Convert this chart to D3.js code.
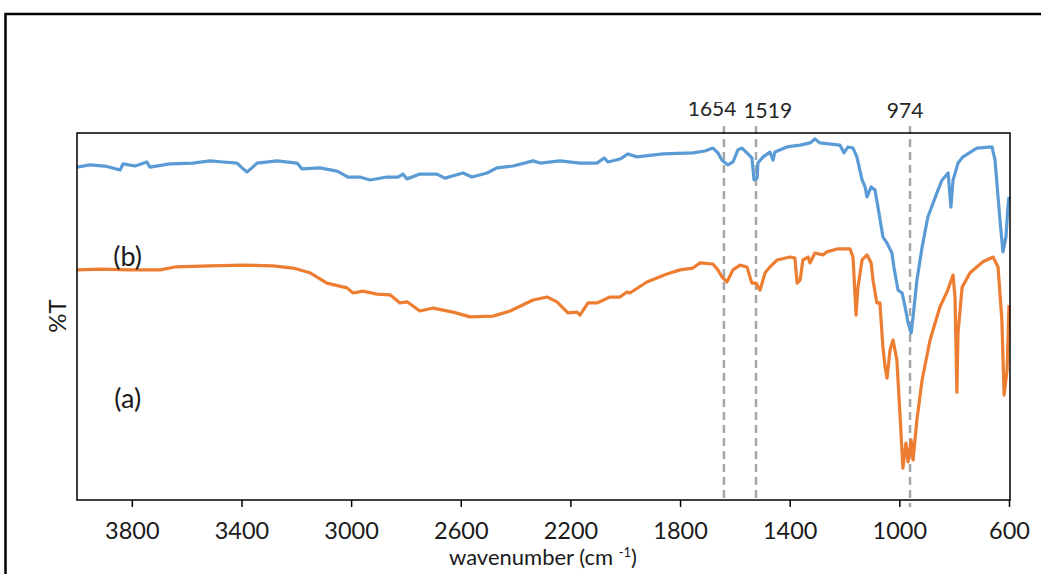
<!DOCTYPE html>
<html>
<head>
<meta charset="utf-8">
<script src="https://cdn.jsdelivr.net/npm/d3@7"></script>
<style>
  body { margin: 0; background: #fff; }
  svg { display: block; font-family: Lato, "Open Sans", sans-serif; }
</style>
</head>
<body>
<svg id="chart"></svg>
<script>
// FTIR spectra (wavenumber cm-1, %T on an arbitrary 0-100 scale)
const blueWn = [4000,3953,3898,3843,3832,3788,3745,3734,3661,3577,3515,3467,3416,3398,3380,3362,3343,3270,3197,3179,3114,3051,3011,2968,2931,2869,2829,2811,2796,2749,2687,2658,2592,2559,2504,2468,2409,2336,2311,2238,2165,2103,2077,2063,2019,1990,1957,1862,1753,1709,1680,1662,1647,1625,1607,1589,1574,1556,1538,1530,1519,1516,1497,1472,1461,1454,1410,1362,1326,1308,1290,1217,1202,1187,1169,1155,1136,1125,1118,1103,1089,1078,1060,1045,1027,1020,1005,990,979,968,957,950,936,917,896,863,844,822,812,804,786,768,717,662,651,633,622,611,604,600];
const blueT = [90.7,91.3,91.0,89.9,91.6,91.0,92.1,90.7,91.6,91.8,92.4,92.1,91.8,90.5,89.4,90.5,91.8,92.4,91.8,90.2,90.5,89.6,88.0,88.0,87.2,88.0,88.0,88.8,87.5,88.8,88.8,87.7,89.1,88.0,89.1,90.5,91.0,92.4,91.8,92.4,91.8,91.8,93.2,92.1,92.9,94.3,93.5,94.3,94.6,95.1,95.9,94.6,92.6,91.3,92.1,95.4,95.9,94.6,93.2,87.2,87.7,91.8,93.5,94.8,92.6,94.8,96.2,96.7,97.3,98.4,97.3,96.7,94.6,96.2,95.9,93.5,87.2,85.3,82.6,85.3,84.5,79.8,71.7,70.0,67.3,63.5,57.2,56.4,52.6,48.2,45.5,49.9,59.9,68.9,77.1,83.7,87.2,89.1,79.8,87.2,91.8,93.5,95.9,96.2,92.6,76.3,67.6,71.7,79.8,82.6];

const orangeWn = [4000,3916,3807,3697,3642,3515,3394,3285,3212,3150,3088,3015,2993,2957,2906,2858,2822,2796,2749,2701,2628,2566,2482,2420,2336,2285,2249,2209,2176,2165,2136,2103,2056,2019,1994,1983,1921,1848,1800,1753,1727,1680,1662,1647,1629,1607,1581,1556,1538,1523,1508,1490,1472,1446,1399,1381,1373,1362,1352,1333,1326,1308,1279,1264,1227,1180,1169,1158,1151,1136,1118,1103,1096,1082,1071,1060,1052,1045,1034,1023,1009,998,987,976,968,957,950,936,917,888,852,826,804,797,790,786,771,742,695,658,640,626,618,607,600];
const orangeT = [62.7,62.9,62.7,62.7,63.5,63.8,64.0,63.8,63.2,61.9,59.1,57.8,56.4,56.9,56.1,55.9,53.7,54.0,51.5,52.3,51.2,49.9,50.1,51.5,54.5,55.3,54.0,51.0,51.2,50.4,53.7,53.7,55.3,55.3,56.7,56.4,59.4,61.6,62.7,63.2,64.6,64.3,62.7,60.8,59.4,62.7,64.0,63.5,59.1,59.1,57.2,61.9,63.5,65.4,66.2,65.9,59.1,59.9,65.4,66.2,64.6,67.3,66.8,67.6,68.4,68.4,66.2,50.4,58.0,65.4,66.8,64.6,59.9,53.7,53.7,41.7,36.2,33.2,40.9,43.6,38.1,23.7,8.7,15.5,10.4,16.3,10.9,21.8,32.7,43.6,52.6,56.7,61.3,55.3,29.4,45.5,58.0,61.9,64.9,66.2,63.5,49.0,28.6,35.4,53.1];

const xTicks = [3800,3400,3000,2600,2200,1800,1400,1000,600];
const peakLines = [1640,1523,961];          // where the dashed guides sit
const peakLabels = ["1654","1519","974"];
const peakLabelWn = [1683,1480,979];        // label centres
const curveLabels = ["(b)","(a)"];
const curveLabelT = [63.8,25];
const curveLabelWn = [3815,3815];

const width = 1041, height = 574;
const marginLeft = 77, marginRight = 1009, marginTop = 133, marginBottom = 500;

const svg = d3.select("#chart")
  .attr("width", width)
  .attr("height", height)
  .attr("viewBox", [0, 0, width, height]);

const x = d3.scaleLinear().domain([4000, 600]).range([marginLeft, marginRight]);
const y = d3.scaleLinear().domain([0, 100]).range([marginBottom, marginTop]);

// outer frame (page border around the figure)
svg.append("path")
  .attr("d", `M5.5,${height} V14 H${width}`)
  .attr("fill", "none")
  .attr("stroke", "#000")
  .attr("stroke-width", 2.5);

svg.append("clipPath").attr("id", "plotClip")
  .append("rect")
  .attr("x", marginLeft).attr("y", marginTop)
  .attr("width", marginRight - marginLeft + 2).attr("height", marginBottom - marginTop);

svg.append("clipPath").attr("id", "labelClip")
  .append("rect")
  .attr("x", 0).attr("y", 102).attr("width", width).attr("height", 60);

// dashed peak guides
svg.append("g")
  .selectAll("line")
  .data(peakLines)
  .join("line")
  .attr("x1", d => x(d)).attr("x2", d => x(d))
  .attr("y1", 126).attr("y2", (d, i) => i === 2 ? 507 : 503)
  .attr("stroke", "#a6a6a6")
  .attr("stroke-width", 2.5)
  .attr("stroke-dasharray", "8,5");

// spectra
const line = d3.line().x(d => x(d[0])).y(d => y(d[1]));
const series = [
  { wn: orangeWn, t: orangeT, color: "#ed7d31" },
  { wn: blueWn, t: blueT, color: "#5b9bd5" }
];
svg.append("g")
  .attr("clip-path", "url(#plotClip)")
  .selectAll("path")
  .data(series)
  .join("path")
  .attr("d", s => line(d3.zip(s.wn, s.t)))
  .attr("fill", "none")
  .attr("stroke", s => s.color)
  .attr("stroke-width", 3.2)
  .attr("stroke-linejoin", "round");

// plot frame
svg.append("rect")
  .attr("x", marginLeft).attr("y", marginTop)
  .attr("width", marginRight - marginLeft + 1).attr("height", marginBottom - marginTop)
  .attr("fill", "none")
  .attr("stroke", "#000")
  .attr("stroke-width", 1.5);

// x axis
const xAxis = d3.axisBottom(x).tickValues(xTicks).tickSize(7).tickPadding(15).tickFormat(d3.format("d"));
svg.append("g")
  .attr("transform", `translate(0,${marginBottom})`)
  .call(xAxis)
  .call(g => g.select(".domain").remove())
  .call(g => g.selectAll(".tick line").attr("stroke", "#000").attr("stroke-width", 1.5))
  .call(g => g.selectAll(".tick text")
    .attr("fill", "#1a1a1a")
    .style("font-size", "23.5px")
    .style("font-family", "Lato, sans-serif"));

// x title
const xt = svg.append("text")
  .attr("x", 543).attr("y", 565)
  .attr("text-anchor", "middle")
  .attr("fill", "#1a1a1a")
  .style("font-size", "22px");
xt.append("tspan").text("wavenumber (cm ");
xt.append("tspan").attr("dy", -8).style("font-size", "13px").text("-1");
xt.append("tspan").attr("dy", 8).text(")");

// y title
svg.append("text")
  .attr("transform", "translate(66,316) rotate(-90)")
  .attr("text-anchor", "middle")
  .attr("fill", "#1a1a1a")
  .style("font-size", "24px")
  .text("%T");

// peak labels
svg.append("g")
  .attr("clip-path", "url(#labelClip)")
  .selectAll("text")
  .data(peakLabels)
  .join("text")
  .attr("x", (d, i) => x(peakLabelWn[i]))
  .attr("y", (d, i) => i === 0 ? 116 : 118)
  .attr("text-anchor", "middle")
  .attr("fill", "#262626")
  .style("font-size", "21px")
  .text(d => d);

// curve labels
svg.append("g")
  .selectAll("text")
  .data(curveLabels)
  .join("text")
  .attr("x", (d, i) => x(curveLabelWn[i]))
  .attr("y", (d, i) => y(curveLabelT[i]))
  .attr("text-anchor", "middle")
  .attr("fill", "#1a1a1a")
  .style("font-size", "27px")
  .text(d => d);
</script>
</body>
</html>
